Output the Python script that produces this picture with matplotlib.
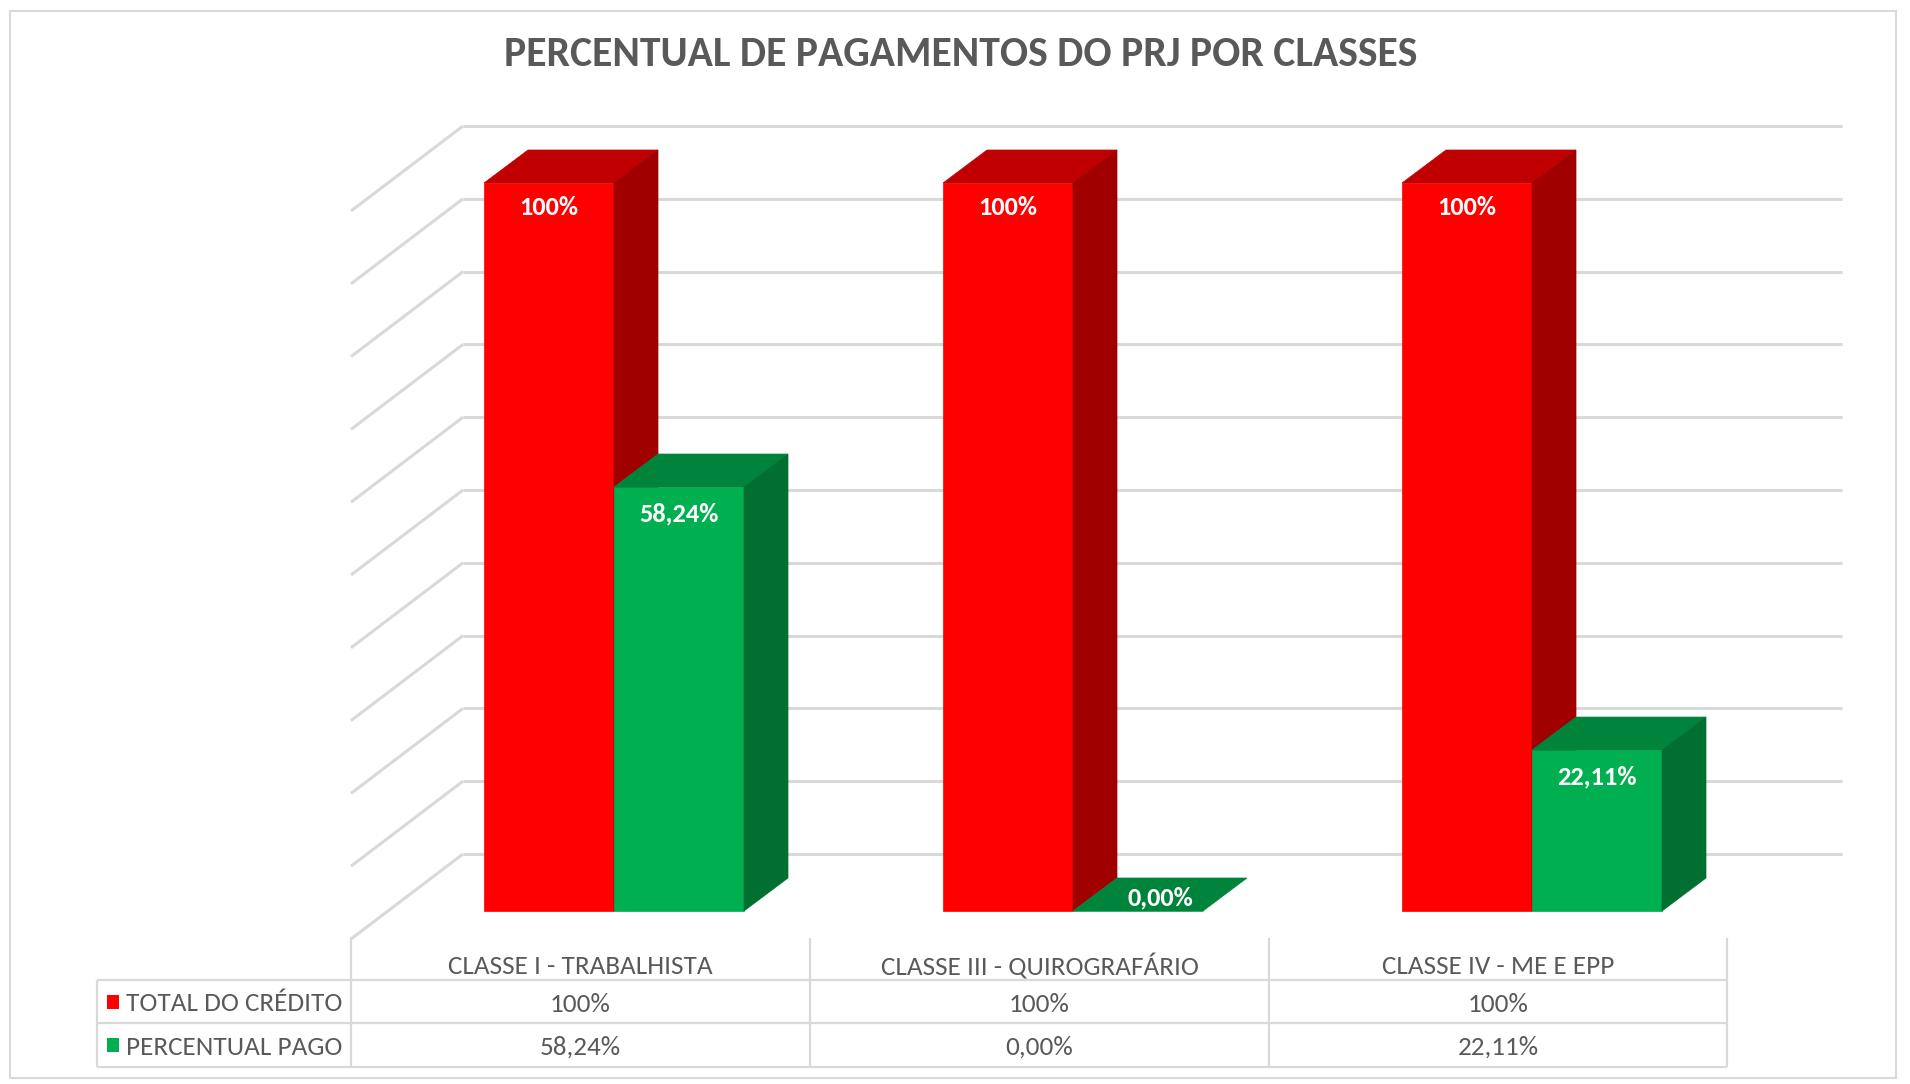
import numpy as np
import matplotlib
matplotlib.use("Agg")
import matplotlib.pyplot as plt
from matplotlib.patches import Polygon, Rectangle
from matplotlib import font_manager as fm

# ---------------- data ----------------
categories = ["CLASSE I - TRABALHISTA", "CLASSE III - QUIROGRAFÁRIO", "CLASSE IV - ME E EPP"]
series_names = ["TOTAL DO CRÉDITO", "PERCENTUAL PAGO"]
total_credito = [1.00, 1.00, 1.00]
percentual_pago = [0.5824, 0.0000, 0.2211]
total_labels = ["100%", "100%", "100%"]
pago_labels = ["58,24%", "0,00%", "22,11%"]
grid_values = [0.0, 0.1, 0.2, 0.3, 0.4, 0.5, 0.6, 0.7, 0.8, 0.9, 1.0]
title = "PERCENTUAL DE PAGAMENTOS DO PRJ POR CLASSES"

# ---------------- style ----------------
available = {f.name for f in fm.fontManager.ttflist}
fam = [f for f in ["Carlito", "Lato", "DejaVu Sans"] if f in available]
plt.rcParams["font.family"] = fam

RED_FRONT, RED_TOP, RED_SIDE = "#FF0000", "#C00000", "#A00000"
GRN_FRONT, GRN_TOP, GRN_SIDE = "#00B050", "#00843C", "#006F30"
GRID = "#D9D9D9"
TXT = "#595959"

W, H, DPI = 1910, 1084, 100
fig = plt.figure(figsize=(W / DPI, H / DPI), dpi=DPI)
fig.patch.set_facecolor("white")

# layout (pixel anchors -> data units)
X0, DXC = 614.0, 459.0     # pixel of category 0 centre, pixels per category
Y0, SY = 911.0, 728.0      # pixel of value 0 (front), pixels per unit value


def px2x(p):
    return (p - X0) / DXC


def px2y(p):
    return (Y0 - p) / SY


ax = fig.add_axes([0, 0, 1, 1])
ax.set_xlim(px2x(0), px2x(W))
ax.set_ylim(px2y(H), px2y(0))
ax.axis("off")

bar_w = 130 / DXC
ddx = 44 / DXC
ddy = 33 / SY
wall_dy = 57 / SY
wall_left, wall_right = px2x(463), px2x(1842)
side_dx = px2x(351) - px2x(463)
side_dy = -85 / SY

# back wall gridlines + left wall diagonals
for v in grid_values:
    yb = v + wall_dy
    ax.plot([wall_left, wall_right], [yb, yb], color=GRID, lw=2.2, zorder=1,
            solid_capstyle="butt")
    ax.plot([wall_left, wall_left + side_dx], [yb, yb + side_dy], color=GRID,
            lw=2.2, zorder=1, solid_capstyle="butt")


def draw_bar(x_left, value, front, top, side, z):
    x_right = x_left + bar_w
    ax.add_patch(Polygon([(x_left, 0), (x_right, 0), (x_right, value), (x_left, value)],
                         closed=True, facecolor=front, edgecolor=front, lw=0.5, zorder=z))
    ax.add_patch(Polygon([(x_left, value), (x_right, value),
                          (x_right + ddx, value + ddy), (x_left + ddx, value + ddy)],
                         closed=True, facecolor=top, edgecolor=top, lw=0.5, zorder=z))
    if value > 0:
        ax.add_patch(Polygon([(x_right, 0), (x_right + ddx, ddy),
                              (x_right + ddx, value + ddy), (x_right, value)],
                             closed=True, facecolor=side, edgecolor=side, lw=0.5, zorder=z))


label_kw = dict(color="white", fontsize=19, fontweight="bold", ha="center", va="center", zorder=10)
for i in range(len(categories)):
    z = 3 + i * 2
    draw_bar(i - bar_w, total_credito[i], RED_FRONT, RED_TOP, RED_SIDE, z)
    draw_bar(i, percentual_pago[i], GRN_FRONT, GRN_TOP, GRN_SIDE, z + 1)
    ax.text(i - bar_w / 2, total_credito[i] - 0.034, total_labels[i], **label_kw)
    if percentual_pago[i] > 0:
        ax.text(i + bar_w / 2, percentual_pago[i] - 0.037, pago_labels[i], **label_kw)
    else:
        ax.text(i + bar_w / 2 + ddx / 2, percentual_pago[i] + ddy / 2 - 0.005, pago_labels[i], **label_kw)

# ---------------- data table ----------------
col_edges = [px2x(p) for p in (351, 810, 1269, 1727)]
tbl_left = px2x(97)
y_top, y_r1, y_r2, y_bot = px2y(938), px2y(980), px2y(1023), px2y(1067)
tl = dict(color=GRID, lw=1.6, zorder=1, solid_capstyle="butt")
for xe in col_edges:
    ax.plot([xe, xe], [y_top, y_bot], **tl)
for yy in (y_r1, y_r2, y_bot):
    ax.plot([tbl_left, col_edges[-1]], [yy, yy], **tl)
ax.plot([tbl_left, tbl_left], [y_r1, y_bot], **tl)

tfs = 19.5
for i, cat in enumerate(categories):
    xc = (col_edges[i] + col_edges[i + 1]) / 2
    ax.text(xc, (y_top + y_r1) / 2 - 0.010, cat, color=TXT, fontsize=tfs, ha="center", va="center")
    ax.text(xc, (y_r1 + y_r2) / 2 - 0.004, total_labels[i], color=TXT, fontsize=tfs, ha="center", va="center")
    ax.text(xc, (y_r2 + y_bot) / 2 - 0.003, pago_labels[i], color=TXT, fontsize=tfs, ha="center", va="center")

key_w, key_h = 12 / DXC, 14 / SY
for name, col, (ya, yb) in zip(series_names, [RED_FRONT, GRN_FRONT], [(y_r1, y_r2), (y_r2, y_bot)]):
    ym = (ya + yb) / 2
    ax.add_patch(Rectangle((px2x(107), ym - key_h / 2), key_w, key_h, facecolor=col, edgecolor="none", zorder=2))
    ax.text(px2x(126), ym - 0.003, name, color=TXT, fontsize=tfs, ha="left", va="center")

# ---------------- title & frame ----------------
fig.text(961 / W, 1 - 55 / H, title, color=TXT, fontsize=30, fontweight="bold", ha="center", va="center")
fig.add_artist(Rectangle((10 / W, 6 / H), (W - 14) / W - 10 / W, (H - 11) / H - 6 / H,
                         transform=fig.transFigure, facecolor="none", edgecolor=GRID, lw=1.5))

fig.savefig("out.png", dpi=DPI, facecolor="white")
